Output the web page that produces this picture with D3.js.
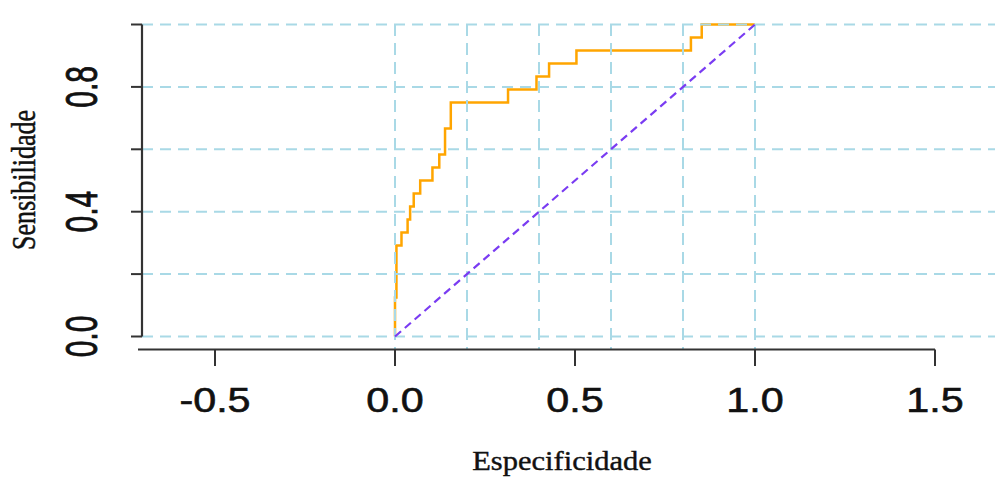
<!DOCTYPE html>
<html>
<head>
<meta charset="utf-8">
<script src="https://cdn.jsdelivr.net/npm/d3@7"></script>
<style>
  html, body { margin: 0; padding: 0; background: #ffffff; }
  svg { display: block; }
</style>
</head>
<body>
<svg id="chart" width="995" height="477"></svg>
<script>
// ROC curve step vertices (1 - specificity, sensitivity)
const rocFpr = [0, 0, 0.004, 0.018, 0.035, 0.042, 0.052, 0.070, 0.104, 0.123, 0.139, 0.155, 0.314, 0.393, 0.428, 0.504, 0.822, 0.852, 1.0];
const rocTpr = [0, 0.125, 0.292, 0.333, 0.375, 0.417, 0.458, 0.5, 0.542, 0.583, 0.667, 0.75, 0.792, 0.833, 0.875, 0.917, 0.958, 1.0, 1.0];
const diagX = [0, 1];
const diagY = [0, 1];
const xTicks = [-0.5, 0.0, 0.5, 1.0, 1.5];
const xTickLabels = ["-0.5", "0.0", "0.5", "1.0", "1.5"];
const yTicks = [0, 0.2, 0.4, 0.6, 0.8, 1.0];
const yTickLabels = ["0.0", "", "0.4", "", "0.8", ""];
const gridVals = [0, 0.2, 0.4, 0.6, 0.8, 1.0];
const xTitle = "Especificidade";
const yTitle = "Sensibilidade";

const svg = d3.select("#chart");
const x = d3.scaleLinear().domain([-0.5, 1.5]).range([215, 935]);
const y = d3.scaleLinear().domain([0, 1]).range([336.5, 24.5]);

const gridColor = "#a9d9e6";
const axisColor = "#333333";

// ROC curve
const roc = rocFpr.map((d, i) => [d, rocTpr[i]]);
svg.append("path")
  .datum(roc)
  .attr("fill", "none")
  .attr("stroke", "#ffa500")
  .attr("stroke-width", 2.5)
  .attr("d", d3.line().x(d => x(d[0])).y(d => y(d[1])).curve(d3.curveStepAfter));

// grid (drawn on top, as in reference)
const grid = svg.append("g");
grid.selectAll("line.h").data(gridVals).enter().append("line")
  .attr("x1", 142).attr("x2", 995)
  .attr("y1", d => y(d)).attr("y2", d => y(d))
  .attr("stroke", gridColor).attr("stroke-width", 2)
  .attr("stroke-dasharray", "11,7");
grid.selectAll("line.v").data(gridVals).enter().append("line")
  .attr("x1", d => x(d)).attr("x2", d => x(d))
  .attr("y1", 24).attr("y2", 349)
  .attr("stroke", gridColor).attr("stroke-width", 2)
  .attr("stroke-dasharray", "12,7");

// diagonal
const diag = diagX.map((d, i) => [d, diagY[i]]);
svg.append("path")
  .datum(diag)
  .attr("fill", "none")
  .attr("stroke", "#7a3cf2")
  .attr("stroke-width", 2.2)
  .attr("stroke-dasharray", "8,5")
  .attr("d", d3.line().x(d => x(d[0])).y(d => y(d[1])));

// X axis
svg.append("line")
  .attr("x1", 138).attr("x2", x(1.5))
  .attr("y1", 349.5).attr("y2", 349.5)
  .attr("stroke", axisColor).attr("stroke-width", 2.2);
svg.selectAll("line.xt").data(xTicks).enter().append("line")
  .attr("x1", d => x(d)).attr("x2", d => x(d))
  .attr("y1", 349.5).attr("y2", 366)
  .attr("stroke", axisColor).attr("stroke-width", 2);
svg.selectAll("text.xl").data(xTicks).enter().append("text")
  .attr("transform", d => `translate(${x(d)},412) scale(1.18,1)`)
  .attr("text-anchor", "middle")
  .attr("font-family", "Liberation Sans, Arial, sans-serif")
  .attr("font-size", 35)
  .attr("fill", "#111")
  .attr("stroke", "#111").attr("stroke-width", 0.6)
  .text((d, i) => xTickLabels[i]);

// Y axis
svg.append("line")
  .attr("x1", 142).attr("x2", 142)
  .attr("y1", y(1)).attr("y2", y(0))
  .attr("stroke", axisColor).attr("stroke-width", 2.2);
svg.selectAll("line.yt").data(yTicks).enter().append("line")
  .attr("x1", 131).attr("x2", 142)
  .attr("y1", d => y(d)).attr("y2", d => y(d))
  .attr("stroke", axisColor).attr("stroke-width", 2);
svg.selectAll("text.yl").data(yTicks).enter().append("text")
  .attr("transform", d => `translate(96.5,${y(d)}) scale(1.45,1) rotate(-90)`)
  .attr("text-anchor", "middle")
  .attr("font-family", "Liberation Sans, Arial, sans-serif")
  .attr("font-size", 30)
  .attr("fill", "#111")
  .attr("stroke", "#111").attr("stroke-width", 0.6)
  .text((d, i) => yTickLabels[i]);

// Titles
svg.append("text")
  .attr("transform", "translate(562,470) scale(1.13,1)")
  .attr("text-anchor", "middle")
  .attr("font-family", "Liberation Serif, Times New Roman, serif")
  .attr("font-size", 27)
  .attr("fill", "#111")
  .attr("stroke", "#111").attr("stroke-width", 0.4)
  .text(xTitle);
svg.append("text")
  .attr("transform", "translate(35,180) scale(1.3,1) rotate(-90)")
  .attr("text-anchor", "middle")
  .attr("font-family", "Liberation Serif, Times New Roman, serif")
  .attr("font-size", 26)
  .attr("fill", "#111")
  .attr("stroke", "#111").attr("stroke-width", 0.4)
  .text(yTitle);
</script>
</body>
</html>
